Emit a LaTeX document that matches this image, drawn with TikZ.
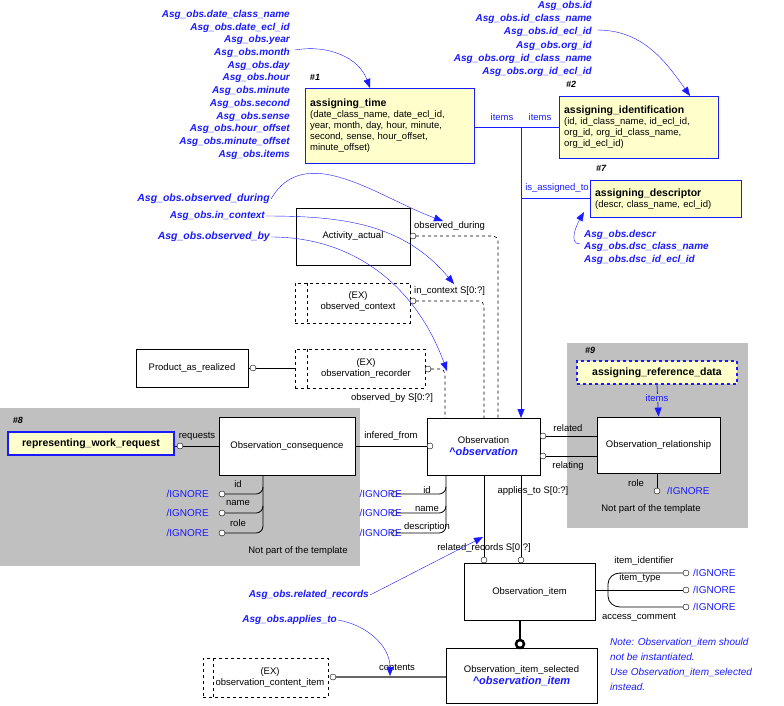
\documentclass[tikz,border=0pt]{standalone}
\usepackage{fontspec}
\setmainfont{Liberation Sans}
\usetikzlibrary{arrows.meta}
\definecolor{ylw}{HTML}{FFFFCC}
\definecolor{gry}{HTML}{C0C0C0}
\definecolor{bl}{HTML}{1A1AFF}
\begin{document}
\begin{tikzpicture}[x=1pt,y=-1pt,
  every node/.style={font=\fontsize{9.5}{11}\selectfont, inner sep=1pt},
  ent/.style={draw, thick, fill=white, align=center},
  exb/.style={draw, dashed, fill=white, align=center},
  asg/.style={draw=bl, very thick, fill=ylw, align=left, anchor=north west, inner sep=3pt},
  lbl/.style={text=bl, font=\fontsize{10}{12.7}\selectfont\bfseries\itshape},
  ign/.style={text=bl, font=\fontsize{10}{11}\selectfont},
  ci/.style={circle, draw, fill=white, inner sep=0, minimum size=6pt},
  barr/.style={draw=bl, -{Triangle[length=9pt,width=7pt]}},
  rel/.style={draw, thick},
  dsh/.style={draw, dashed, semithick, rounded corners=5pt}]
\useasboundingbox (0,0) rectangle (784,705);
% gray areas
\fill[gry] (0,408) rectangle (360,566);
\fill[gry] (567,343) rectangle (748,528);
\node[font=\fontsize{9}{11}\selectfont\bfseries\itshape] (h8) at (18,420) {\#8};
\node[font=\fontsize{9}{11}\selectfont\bfseries\itshape] (h9) at (590,350) {\#9};
\node (np1) at (298,551) {Not part of the template};
\node (np2) at (651,509) {Not part of the template};

% assigning boxes
\node[asg, minimum width=169pt, minimum height=75pt, text width=160pt] (at) at (305,88)
 {\textbf{\fontsize{10.5}{12}\selectfont assigning\_time}\\(date\_class\_name, date\_ecl\_id,\\ year, month, day, hour, minute,\\ second, sense, hour\_offset,\\ minute\_offset)};
\node[font=\fontsize{9}{11}\selectfont\bfseries\itshape] (h1) at (315,77) {\#1};
\node[asg, minimum width=159pt, minimum height=62pt, text width=150pt] (ai) at (559,96)
 {\textbf{\fontsize{10.5}{12}\selectfont assigning\_identification}\\(id, id\_class\_name, id\_ecl\_id,\\ org\_id, org\_id\_class\_name,\\ org\_id\_ecl\_id)};
\node[font=\fontsize{9}{11}\selectfont\bfseries\itshape] (h2) at (571,84) {\#2};
\node[asg, minimum width=151pt, minimum height=37pt, text width=142pt] (ad) at (590,180)
 {\textbf{\fontsize{10.5}{12}\selectfont assigning\_descriptor}\\(descr, class\_name, ecl\_id)};
\node[font=\fontsize{9}{11}\selectfont\bfseries\itshape] (h7) at (601,168) {\#7};
\node[draw=bl, very thick, dashed, fill=ylw, minimum width=160pt, minimum height=23pt, font=\fontsize{10.5}{12}\selectfont\bfseries] (ard) at (657,372.5) {assigning\_reference\_data};
\node[draw=bl, very thick, fill=ylw, minimum width=166pt, minimum height=23pt, font=\fontsize{10.5}{12}\selectfont\bfseries] (rwr) at (91,443.5) {representing\_work\_request};

% entities
\node[ent, minimum width=114pt, minimum height=57pt] (aa) at (353,236.5) {Activity\_actual};
\node[exb, minimum width=115pt, minimum height=40pt] (oc) at (352.5,303) {};
\draw[dashed] (307,283) -- (307,323);
\node[align=center] (oct) at (358,301) {(EX)\\observed\_context};
\node[exb, minimum width=130pt, minimum height=39pt] (orc) at (360,368.5) {};
\draw[dashed] (307,349) -- (307,388);
\node[align=center] (orct) at (366,368) {(EX)\\observation\_recorder};
\node[ent, minimum width=112pt, minimum height=38pt] (par) at (192,368) {Product\_as\_realized};
\node[ent, minimum width=136pt, minimum height=58pt] (ocq) at (287,446) {Observation\_consequence};
\node[ent, minimum width=113pt, minimum height=57pt] (obs) at (483.5,446.5) {Observation\\[1pt]{\color{bl}\bfseries\itshape\fontsize{11}{12}\selectfont \^{}observation}};
\node[ent, minimum width=123pt, minimum height=56pt] (orl) at (658.5,445) {Observation\_relationship};
\node[ent, minimum width=131pt, minimum height=57pt] (oi) at (529.5,591.5) {Observation\_item};
\node[ent, minimum width=151pt, minimum height=55pt] (ois) at (521.5,675.5) {Observation\_item\_selected\\[1pt]{\color{bl}\bfseries\itshape\fontsize{11}{12}\selectfont \^{}observation\_item}};
\node[exb, minimum width=125pt, minimum height=39pt] (oci) at (265.5,677.5) {};
\draw[dashed] (213,658) -- (213,697);
\node[align=center] (ocit) at (270,677) {(EX)\\observation\_content\_item};

% blue assignment connectors
\coordinate (j1) at (521,127);
\draw[draw=bl, thick] (at.east |- j1) -- (ai.west |- j1);
\draw[barr, thick] (j1) -- (521,418);
\draw[draw=bl, thick] (521,198) -- (ad.west |- 521,198);
\node[text=bl] (it1) at (502,117) {items};
\node[text=bl] (it2) at (540,117) {items};
\node[text=bl] (iat) at (557,188) {is\_assigned\_to};
\draw[barr, thick] (ard.south) -- (orl.north);
\node[text=bl, fill=gry] (it3) at (657,398) {items};

% relationships
\node[ci] (c1) at (413,236) {};
\draw[dsh] (c1) -- (498,236) -- (498,418);
\node[anchor=west] (l1) at (413,226) {observed\_during};
\node[ci] (c2) at (413,301) {};
\draw[dsh] (c2) -- (484,301) -- (484,418);
\node[anchor=west] (l2) at (413,291) {in\_context S[0:?]};
\node[ci] (c3) at (428,369) {};
\draw[dsh] (c3) -- (445,369) -- (445,418);
\node (l3) at (392,398) {observed\_by S[0:?]};
\node[ci] (c4) at (253,368) {};
\draw[rel] (par.east) -- (c4) -- (orc.west |- c4);
\node[ci] (c5) at (180,446) {};
\draw[rel] (rwr.east |- c5) -- (c5) -- (ocq.west |- c5);
\node (l5) at (197,436) {requests};
\node[ci] (c6) at (430,446) {};
\draw[rel] (ocq.east |- c6) -- (c6);
\node (l6) at (391,436) {infered\_from};
\node[ci] (c7) at (543,436) {};
\draw[rel] (c7) -- (orl.west |- c7);
\node (l7) at (568,428) {related};
\node[ci] (c8) at (543,456) {};
\draw[rel] (c8) -- (orl.west |- c8);
\node (l8) at (568,466) {relating};
\node[ci] (c9) at (657,491) {};
\draw[rel] (657,473) -- (c9);
\node (l9) at (636,483) {role};
\node[ign, anchor=west] (g9) at (666,491) {/IGNORE};
\node[ci] (c10) at (484,560) {};
\draw[rel] (484,475) -- (c10);
\node (l10) at (484,548) {related\_records S[0:?]};
\node[ci] (c11) at (521,560) {};
\draw[rel] (521,475) -- (c11);
\node (l11) at (533,491) {applies\_to S[0:?]};
\node[circle, draw, line width=2.5pt, fill=white, inner sep=0, minimum size=8pt] (c12) at (520,644) {};
\draw[line width=2.5pt] (520,620) -- (c12);
\node[ci] (c13) at (333,677) {};
\draw[draw=gray!80!black, line width=1.6pt] (c13) -- (ois.west |- c13);
\node (l13) at (397,667) {contents};

% attribute trees
\foreach \yy/\tt/\nm in {494/id/a, 513/name/b, 533/role/c} {
  \node[ci] (oq\nm) at (222,\yy) {};
  \node[ign, anchor=east] (gq\nm) at (210,\yy) {/IGNORE};
  \node (tq\nm) at (238,\yy-10) {\tt};
}
\draw[rel] (263,475) -- (263,526) to[out=-90,in=0] (256,533) -- (oqc);
\draw[rel] (oqa) -- (256,494) to[out=0,in=-90] (263,487);
\draw[rel] (oqb) -- (256,513) to[out=0,in=-90] (263,506);
\foreach \yy/\tt/\nm in {494/id/a, 513/name/b, 533/description/c} {
  \node[ci] (ob\nm) at (394,\yy) {};
  \node[ign, anchor=east] (gb\nm) at (403,\yy) {/IGNORE};
}
\node (tba) at (427,490) {id};
\node (tbb) at (427,509) {name};
\node (tbc) at (427,527) {description};
\draw[rel] (446,475) -- (446,526) to[out=-90,in=0] (439,533) -- (obc);
\draw[rel] (oba) -- (439,494) to[out=0,in=-90] (446,487);
\draw[rel] (obb) -- (439,513) to[out=0,in=-90] (446,506);
\foreach \yy/\nm in {573/a, 590/b, 607/c} {
  \node[ci] (oi\nm) at (686,\yy) {};
  \node[ign, anchor=west] (gi\nm) at (692,\yy) {/IGNORE};
}
\draw[rel] (oi.east |- 0,590) -- (oib);
\draw[rel] (oia) -- (620,573) to[out=180,in=90] (608,584) -- (608,596) to[out=-90,in=180] (620,607) -- (oic);
\node (tia) at (644,561) {item\_identifier};
\node (tib) at (640,578) {item\_type};
\node (tic) at (639,617) {access\_comment};

% blue labels
\node[lbl, anchor=north east, align=right] (lt) at (291,9)
 {Asg\_obs.date\_class\_name\\Asg\_obs.date\_ecl\_id\\Asg\_obs.year\\Asg\_obs.month\\Asg\_obs.day\\Asg\_obs.hour\\Asg\_obs.minute\\Asg\_obs.second\\Asg\_obs.sense\\Asg\_obs.hour\_offset\\Asg\_obs.minute\_offset\\Asg\_obs.items};
\draw[barr] (295,50) to[out=10,in=110] (370,88);
\node[lbl, anchor=north east, align=right, font=\fontsize{10}{13.2}\selectfont\bfseries\itshape] (lr) at (593,0)
 {Asg\_obs.id\\Asg\_obs.id\_class\_name\\Asg\_obs.id\_ecl\_id\\Asg\_obs.org\_id\\Asg\_obs.org\_id\_class\_name\\Asg\_obs.org\_id\_ecl\_id};
\draw[barr] (597,30) to[out=0,in=125] (690,96);
\node[lbl, anchor=north west, align=left, font=\fontsize{10}{12.5}\selectfont\bfseries\itshape] (ld) at (583,229)
 {Asg\_obs.descr\\Asg\_obs.dsc\_class\_name\\Asg\_obs.dsc\_id\_ecl\_id};
\draw[barr] (580,244) to[out=180,in=-120] (584,212);
\node[lbl, anchor=east, font=\fontsize{10.5}{12}\selectfont\bfseries\itshape] (lod) at (271,199) {Asg\_obs.observed\_during};
\node[lbl, anchor=east] (lic) at (266,216) {Asg\_obs.in\_context};
\node[lbl, anchor=east, font=\fontsize{10.5}{12}\selectfont\bfseries\itshape] (lob) at (271,237) {Asg\_obs.observed\_by};
\draw[barr] (lod.east) to[out=60,in=160] (443,221);
\draw[barr] (lic.east) to[out=0,in=130] (454,284);
\draw[barr] (lob.east) to[out=0,in=110] (447,371);
\node[lbl, anchor=east] (lrr) at (370,595) {Asg\_obs.related\_records};
\draw[barr] (lrr.east) -- (483,537);
\node[lbl, anchor=east] (lat) at (338,620) {Asg\_obs.applies\_to};
\draw[barr] (lat.east) to[out=-10,in=90] (390,676);
\node[text=bl, font=\fontsize{10}{15}\selectfont\itshape, anchor=north west, align=left] (note) at (609,637)
 {Note: Observation\_item should\\not be instantiated.\\Use Observation\_item\_selected\\instead.};
\end{tikzpicture}
\end{document}
